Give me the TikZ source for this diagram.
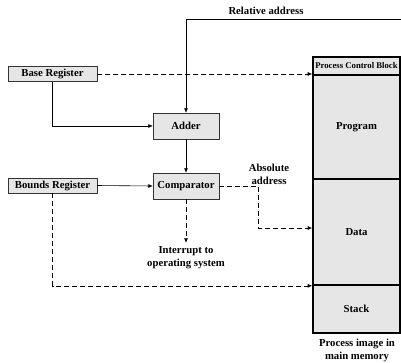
\documentclass[tikz,border=0pt]{standalone}
\usepackage{fontspec}
\setmainfont{Liberation Serif}
\usetikzlibrary{arrows.meta}

\definecolor{boxgray}{HTML}{E6E6E6}

\tikzset{
  every node/.style={font=\fontsize{10.7}{13}\selectfont\bfseries},
  reg/.style={draw=black!80,fill=boxgray,minimum width=89pt,minimum height=15pt,inner sep=0pt},
  unit/.style={draw=black!80,fill=boxgray,minimum width=66pt,minimum height=26pt,inner sep=0pt},
  memcell/.style={draw,line width=1.6pt,fill=boxgray,minimum width=87pt,inner sep=0pt},
  arr/.style={semithick,-{Latex[length=4.5pt,width=4pt]}},
  dashline/.style={dash pattern=on 5pt off 3pt}
}

\begin{document}
\begin{tikzpicture}[x=1pt,y=-1pt]

  \useasboundingbox (0,0) rectangle (401,362);

  % registers and units
  \node[reg] (base) at (52.5,74) {Base Register};
  \node[reg] (bounds) at (52.5,185.5) {Bounds Register};
  \node[unit] (adder) at (186,126) {Adder};
  \node[unit] (comp) at (186,186) {Comparator};

  % process image
  \node[memcell,minimum height=18pt,font=\fontsize{8.7}{10}\selectfont\bfseries] (pcb) at (356.5,66) {Process Control Block};
  \node[memcell,minimum height=104pt] (prog) at (356.5,127) {Program};
  \node[memcell,minimum height=106pt] (data) at (356.5,232) {Data};
  \node[memcell,minimum height=48pt] (stack) at (356.5,309) {Stack};
  \node[align=center] (image) at (357,350) {Process image in\\main memory};

  % labels
  \coordinate (relin) at (401,19);
  \node (relative) at (266,11) {Relative address};
  \node[align=center] (absolute) at (269,174.5) {Absolute\\address};
  \node[align=center] (interrupt) at (186,257.5) {Interrupt to\\operating system};

  % solid paths
  \draw[arr] (relin) -| (adder.north);
  \draw[arr] (base.south) |- (adder.west);
  \draw[arr] (adder.south) -- (comp.north);
  \draw[arr] (bounds.east) -- (comp.west);

  % dashed paths
  \draw[arr,dashline] (base.east) -- (base.east -| pcb.west);
  \draw[arr,dashline] (comp.east) -- ++(39,0) |- ([yshift=4pt]data.west);
  \draw[arr,dashline] (comp.south) -- (interrupt.north);
  \draw[arr,dashline] (bounds.south) |- (data.south west);

\end{tikzpicture}
\end{document}
